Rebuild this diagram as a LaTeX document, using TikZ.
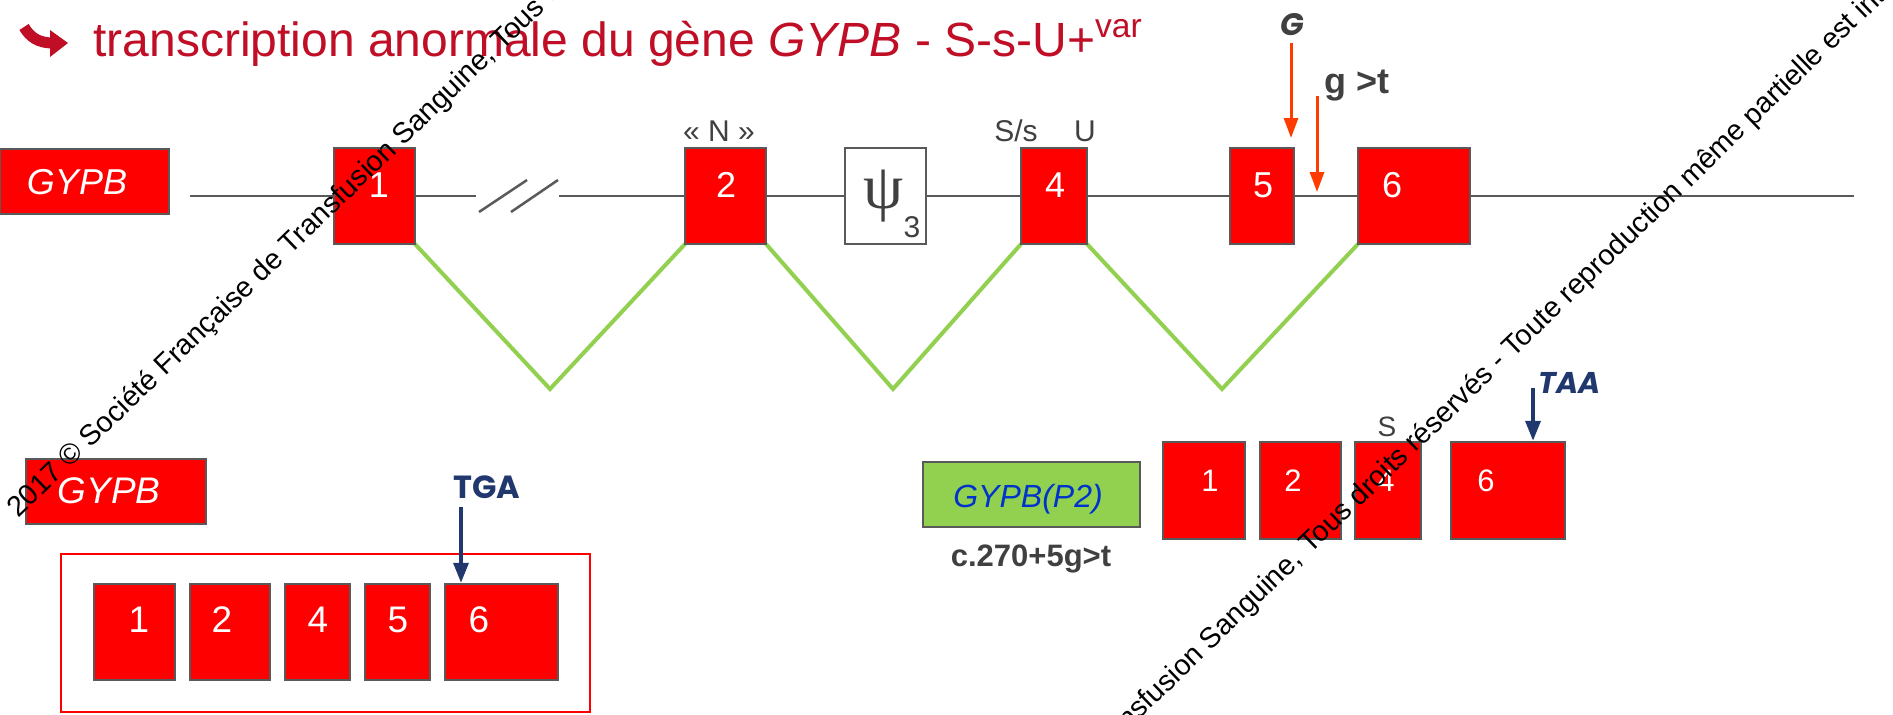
\documentclass[tikz,border=0pt]{standalone}
\usepackage{fontspec}
\setmainfont{Liberation Sans}
\newfontfamily\psifont{Liberation Serif}
\newfontfamily\comicfont{Poppins}
\usetikzlibrary{arrows.meta,fit}
\newdimen\px \px=0.5pt
\newcommand\fsz[1]{\fontsize{\the\dimexpr#1\px\relax}{\the\dimexpr#1\px\relax}\selectfont}
\definecolor{titlered}{RGB}{192,14,38}
\definecolor{exred}{RGB}{255,0,0}
\definecolor{exborder}{RGB}{89,89,89}
\definecolor{splice}{RGB}{146,208,80}
\definecolor{mutred}{RGB}{255,60,0}
\definecolor{navy}{RGB}{32,56,110}
\definecolor{dgray}{RGB}{64,64,64}
\definecolor{lgray}{RGB}{90,90,90}
\definecolor{blueP}{RGB}{0,51,204}
\tikzset{
  exon/.style={draw=exborder, fill=exred, line width=1.25pt, inner sep=0pt},
  psibox/.style={draw=lgray, fill=white, line width=1.25pt, inner sep=0pt},
  genebox/.style={draw=exborder, fill=exred, line width=1.25pt, inner sep=0pt},
  greenbox/.style={draw=exborder, fill=splice, line width=1.25pt, inner sep=0pt},
  num/.style={text=white, inner sep=0pt},
  lbl/.style={text=dgray, inner sep=0pt},
  geneline/.style={draw=lgray, line width=1.25pt},
  splicev/.style={draw=splice, line width=2pt},
  mutarr/.style={draw=mutred, line width=1.5pt, -{Triangle[width=7pt,length=10pt]}},
  navyarr/.style={draw=navy, line width=1.75pt, -{Triangle[width=7.5pt,length=10pt]}},
  wm/.style={font=\fsz{28.7}, text=black, inner sep=0pt, rotate=44},
}
\begin{document}
\begin{tikzpicture}[x=0.5pt,y=-0.5pt]
\clip (0,0) rectangle (1893,714);
\useasboundingbox (0,0) rectangle (1893,714);
\fill[white] (0,0) rectangle (1893,714);

% title
\draw[titlered, line width=5.5pt] (24,27) .. controls (30,37) and (38,43) .. (53,43);
\fill[titlered] (50,30) -- (68,43) -- (50,57) -- cycle;
\node[anchor=base west, text=titlered, font=\fsz{48}, inner sep=0pt] (title) at (93,56)
  {transcription anormale du gène \textit{GYPB} - S-s-U+\textsuperscript{var}};

% gene line
\coordinate (gl0) at (190,196);
\coordinate (gb1) at (476,196);
\coordinate (gb2) at (559,196);
\coordinate (gl1) at (1854,196);
\draw[geneline] (gl0) -- (gb1);
\draw[geneline] (gb2) -- (gl1);
\coordinate (s1a) at (479,212); \coordinate (s1b) at (527,180);
\coordinate (s2a) at (511,212); \coordinate (s2b) at (558,180);
\draw[geneline] (s1a) -- (s1b);
\draw[geneline] (s2a) -- (s2b);

% splice V
\coordinate (v1) at (550,389);
\coordinate (v2) at (893,389);
\coordinate (v3) at (1222,389);
\draw[splicev] (415,244) -- (v1) -- (685,244);
\draw[splicev] (766,244) -- (v2) -- (1021,244);
\draw[splicev] (1087,244) -- (v3) -- (1358,244);

% top row
\node[genebox, fit={(0,149) (169,214)}] (gypbA) {};
\node[text=white, inner sep=0pt, font=\fsz{36}\itshape] (gypbAt) at (77,182) {GYPB};
\node[exon, fit={(334,148) (415,244)}] (e1) {};
\node[exon, fit={(685,148) (766,244)}] (e2) {};
\node[psibox, fit={(845,148) (926,244)}] (psi) {};
\node[exon, fit={(1021,148) (1087,244)}] (e4) {};
\node[exon, fit={(1230,148) (1294,244)}] (e5) {};
\node[exon, fit={(1358,148) (1470,244)}] (e6) {};
\node[num, font=\fsz{36}] at (379,185) {1};
\node[num, font=\fsz{36}] at (726,185) {2};
\node[num, font=\fsz{36}] at (1055,185) {4};
\node[num, font=\fsz{36}] at (1263,185) {5};
\node[num, font=\fsz{36}] at (1392,185) {6};
\node[text=dgray, inner sep=0pt, font=\psifont\fsz{64}] (psis) at (884,196) {ψ};
\node[lbl, font=\fsz{30}, anchor=base] (psin) at (912,237) {3};

\node[lbl, font=\fsz{30}, anchor=base] (lN) at (719,141) {« N »};
\node[lbl, font=\fsz{30}, anchor=base] (lSs) at (1016,141) {S/s};
\node[lbl, font=\fsz{30}, anchor=base] (lU) at (1085,141) {U};

% mutations
\node[lbl, font=\comicfont\fsz{31}\bfseries\itshape, anchor=base] (G) at (1292,35) {G};
\coordinate (Gs) at (1291,43); \coordinate (Gt) at (1291,138);
\draw[mutarr] (Gs) -- (Gt);
\node[lbl, font=\fsz{36}\bfseries, anchor=base west] (gt) at (1324,93) {g >t};
\coordinate (gs) at (1317,96); \coordinate (gtt) at (1317,192);
\draw[mutarr] (gs) -- (gtt);

% bottom left
\node[genebox, fit={(26,459) (206,524)}] (gypbB) {};
\node[text=white, inner sep=0pt, font=\fsz{37}\itshape] (gypbBt) at (109,491) {GYPB};
\node[draw=exred, line width=1pt, inner sep=0pt, fit={(61,554) (590,712)}] (frame) {};
\node[exon, fit={(94,584) (175,680)}] (b1) {};
\node[exon, fit={(190,584) (270,680)}] (b2) {};
\node[exon, fit={(285,584) (350,680)}] (b4) {};
\node[exon, fit={(365,584) (430,680)}] (b5) {};
\node[exon, fit={(445,584) (558,680)}] (b6) {};
\node[num, font=\fsz{37}] at (139,620) {1};
\node[num, font=\fsz{37}] at (222,620) {2};
\node[num, font=\fsz{37}] at (318,620) {4};
\node[num, font=\fsz{37}] at (398,620) {5};
\node[num, font=\fsz{37}] at (479,620) {6};
\node[text=navy, inner sep=0pt, font=\comicfont\fsz{32}\bfseries, anchor=base] (TGA) at (487,498) {TGA};
\coordinate (tgas) at (461,507);
\draw[navyarr] (tgas) -- (b6.north -| tgas);

% bottom right
\node[greenbox, fit={(923,462) (1140,527)}] (gp2) {};
\node[text=blueP, inner sep=0pt, font=\fsz{32}\itshape, anchor=base] (gp2t) at (1028,507) {GYPB(P2)};
\node[lbl, font=\fsz{31}\bfseries, anchor=base] (cnot) at (1031,566) {c.270+5g>t};
\node[exon, fit={(1163,442) (1245,539)}] (r1) {};
\node[exon, fit={(1260,442) (1341,539)}] (r2) {};
\node[exon, fit={(1355,442) (1421,539)}] (r4) {};
\node[exon, fit={(1451,442) (1565,539)}] (r6) {};
\node[num, font=\fsz{31}] at (1210,481) {1};
\node[num, font=\fsz{31}] at (1293,481) {2};
\node[num, font=\fsz{31}] at (1386,481) {4};
\node[num, font=\fsz{31}] at (1486,481) {6};
\node[lbl, font=\fsz{28}, anchor=base] (lS) at (1387,436) {S};
\node[text=navy, inner sep=0pt, font=\comicfont\fsz{30}\bfseries\itshape, anchor=base west] (TAA) at (1538,393) {TAA};
\coordinate (taas) at (1533,388);
\draw[navyarr] (taas) -- (r6.north -| taas);

% watermark
\node[wm, anchor=base west] (wm1) at (18,519) {2017 © Société Française de Transfusion Sanguine, Tous droits réservés - Toute reproduction même partielle est interdite};
\node[wm, anchor=base east] (wm2a) at (1304,561) {2017 © Société Française de Transfusion Sanguine,};
\node[wm, anchor=base west] (wm2b) at (1310,555) {Tous droits réservés - Toute reproduction même partielle est interdite};
\end{tikzpicture}
\end{document}
